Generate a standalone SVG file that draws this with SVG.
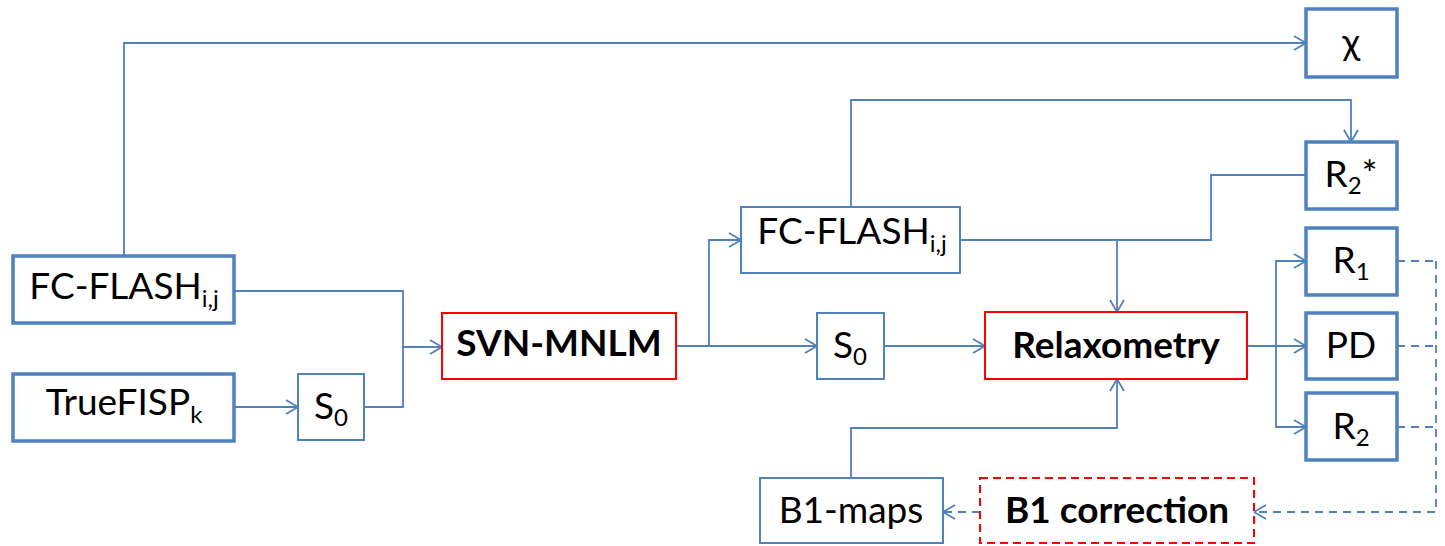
<svg xmlns="http://www.w3.org/2000/svg" width="1445" height="546" viewBox="0 0 1445 546">
<style>
text{font-family:Lato,"Open Sans","DejaVu Sans",sans-serif;font-size:37px;fill:#000;text-anchor:middle}
.b{font-weight:bold}
.sub{font-size:24px}
.thick{fill:#fff;stroke:#4F81BD;stroke-width:3.5}
.thin{fill:#fff;stroke:#4F81BD;stroke-width:2}
.red{fill:#fff;stroke:#FF0000;stroke-width:2}
.redd{fill:#fff;stroke:#FF0000;stroke-width:2;stroke-dasharray:8 5}
.c{fill:none;stroke:#4F81BD;stroke-width:1.8}
.d{fill:none;stroke:#4F81BD;stroke-width:1.8;stroke-dasharray:8 6}
</style>
<defs>
<marker id="ah" markerUnits="userSpaceOnUse" markerWidth="16" markerHeight="18" refX="13" refY="8" orient="auto">
<path d="M1,1 L13,8 L1,15" fill="none" stroke="#4F81BD" stroke-width="1.8"/>
</marker>
</defs>
<g id="connectors">
<path class="c" d="M124,256 V43 H1306" marker-end="url(#ah)"/>
<path class="c" d="M234,291 H403 V407 H364"/>
<path class="c" d="M403,347 H442" marker-end="url(#ah)"/>
<path class="c" d="M234,407 H298" marker-end="url(#ah)"/>
<path class="c" d="M676,346 H817" marker-end="url(#ah)"/>
<path class="c" d="M709,346 V240 H741" marker-end="url(#ah)"/>
<path class="c" d="M851,207 V100 H1351 V142" marker-end="url(#ah)"/>
<path class="c" d="M960,240 H1211 V175 H1306"/>
<path class="c" d="M1117,240 V312" marker-end="url(#ah)"/>
<path class="c" d="M884,346 H985" marker-end="url(#ah)"/>
<path class="c" d="M851,478 V428 H1117 V379" marker-end="url(#ah)"/>
<path class="c" d="M1247,346 H1306" marker-end="url(#ah)"/>
<path class="c" d="M1276,346 V261 H1306" marker-end="url(#ah)"/>
<path class="c" d="M1276,346 V427 H1306" marker-end="url(#ah)"/>
<path class="d" d="M1397,261 H1436"/>
<path class="d" d="M1397,346 H1436"/>
<path class="d" d="M1397,427 H1436"/>
<path class="d" d="M1436,261 V512 H1254" marker-end="url(#ah)"/>
<path class="d" d="M980,512 H943" marker-end="url(#ah)"/>
</g>
<g id="fcflash-in">
<rect class="thick" x="13" y="256" width="221" height="67"/>
<text x="124" y="299">FC-FLASH<tspan class="sub" dy="8">i,j</tspan></text>
</g>
<g id="truefisp">
<rect class="thick" x="13" y="374" width="221" height="67"/>
<text x="124" y="415">TrueFISP<tspan class="sub" dy="8">k</tspan></text>
</g>
<g id="s0-in">
<rect class="thin" x="298" y="374" width="66" height="66"/>
<text x="331" y="419">S<tspan class="sub" dy="7">0</tspan></text>
</g>
<g id="svn-mnlm">
<rect class="red" x="442" y="313" width="234" height="66"/>
<text class="b" x="559" y="356">SVN-MNLM</text>
</g>
<g id="fcflash-mid">
<rect class="thin" x="741" y="207" width="219" height="66"/>
<text x="852" y="244">FC-FLASH<tspan class="sub" dy="8">i,j</tspan></text>
</g>
<g id="s0-mid">
<rect class="thin" x="817" y="313" width="67" height="66"/>
<text x="850" y="358">S<tspan class="sub" dy="7">0</tspan></text>
</g>
<g id="relaxometry">
<rect class="red" x="985" y="312" width="262" height="67"/>
<text class="b" x="1116" y="358">Relaxometry</text>
</g>
<g id="chi">
<rect class="thick" x="1306" y="9" width="91" height="68"/>
<text x="1351" y="55">χ</text>
</g>
<g id="r2star">
<rect class="thick" x="1306" y="142" width="91" height="67"/>
<text x="1351" y="187">R<tspan class="sub" dy="7">2</tspan><tspan dy="-7">*</tspan></text>
</g>
<g id="r1">
<rect class="thick" x="1306" y="228" width="91" height="67"/>
<text x="1351" y="273">R<tspan class="sub" dy="7">1</tspan></text>
</g>
<g id="pd">
<rect class="thick" x="1306" y="313" width="91" height="66"/>
<text x="1351" y="358">PD</text>
</g>
<g id="r2">
<rect class="thick" x="1306" y="393" width="91" height="67"/>
<text x="1351" y="439">R<tspan class="sub" dy="7">2</tspan></text>
</g>
<g id="b1maps">
<rect class="thin" x="760" y="478" width="183" height="65"/>
<text x="851" y="523">B1-maps</text>
</g>
<g id="b1corr">
<rect class="redd" x="980" y="478" width="274" height="65"/>
<text class="b" x="1117" y="523">B1 correction</text>
</g>
</svg>
